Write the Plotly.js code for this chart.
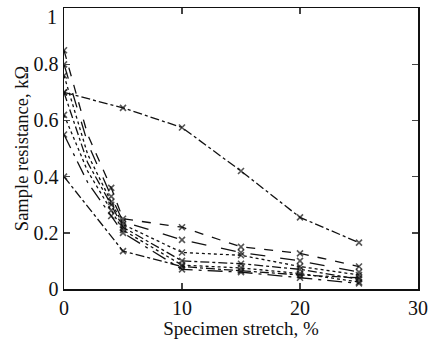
<!DOCTYPE html>
<html>
<head>
<meta charset="utf-8">
<script src="https://cdn.plot.ly/plotly-3.0.1.min.js"></script>
<style>html,body{margin:0;padding:0;background:#fff;}#chart{width:435px;height:350px;}</style>
</head>
<body>
<div id="chart"></div>
<script>
// Data (stretch %, resistance kΩ)
const xA = [0, 5, 10, 15, 20, 25];
const sA = [0.70, 0.645, 0.575, 0.42, 0.255, 0.165];
const xB = [0, 5, 10, 15, 20, 25];
const sB = [0.40, 0.135, 0.08, 0.065, 0.05, 0.04];
const xC = [0, 2, 4, 5, 10, 15, 20, 25];
const s3 = [0.85, 0.55, 0.36, 0.25, 0.22, 0.15, 0.127, 0.08];
const s4 = [0.80, 0.52, 0.33, 0.24, 0.175, 0.13, 0.10, 0.06];
const s5 = [0.76, 0.48, 0.31, 0.23, 0.13, 0.12, 0.08, 0.05];
const s6 = [0.70, 0.45, 0.30, 0.22, 0.10, 0.09, 0.07, 0.035];
const s7 = [0.62, 0.42, 0.28, 0.21, 0.085, 0.075, 0.055, 0.025];
const s8 = [0.55, 0.38, 0.26, 0.20, 0.07, 0.06, 0.04, 0.02];

const xTicks = [0, 10, 20, 30];
const yTicks = [0, 0.2, 0.4, 0.6, 0.8, 1];
const yTickText = ['0', '0.2', '0.4', '0.6', '0.8', '1'];

function tr(x, y, dash) {
  // markers only at the measured stretch steps (not at the intermediate 2% point)
  const sizes = x.map(v => (v === 2 ? 0 : 6));
  return {x: x, y: y, type: 'scatter', mode: 'lines+markers',
    line: {color: '#111', width: 1.3, dash: dash},
    marker: {symbol: 'x-thin', size: sizes, color: '#111', line: {color: '#111', width: 1.6}},
    showlegend: false, hoverinfo: 'skip'};
}
const data = [
  tr(xA, sA, 'dashdot'),
  tr(xB, sB, 'dashdot'),
  tr(xC, s3, 'dash'),
  tr(xC, s4, 'longdash'),
  tr(xC, s5, 'dot'),
  tr(xC, s6, 'dashdot'),
  tr(xC, s7, 'dot'),
  tr(xC, s8, 'longdashdot')
];
const fam = 'Liberation Serif, Times New Roman, serif';
const topIdx = yTicks.length - 1;
const layout = {
  width: 435, height: 350,
  margin: {l: 64, r: 17, t: 8, b: 61},
  paper_bgcolor: '#fff', plot_bgcolor: '#fff',
  font: {family: fam, color: '#111'},
  xaxis: {range: [0, 30], tickvals: xTicks, ticks: 'inside', ticklen: 6, tickwidth: 1.5,
    mirror: 'ticks', showline: true, linecolor: '#111', linewidth: 1.5, showgrid: false, zeroline: false,
    automargin: false,
    tickfont: {family: fam, size: 20, color: '#111'},
    title: {text: 'Specimen stretch, %', font: {family: fam, size: 19, color: '#111'}, standoff: 0}},
  yaxis: {range: [0, 1.0005], tickvals: yTicks, ticktext: yTickText.slice(0, topIdx).concat(['']),
    ticks: 'inside', ticklen: 6, tickwidth: 1.5,
    mirror: 'ticks', showline: true, linecolor: '#111', linewidth: 1.5, showgrid: false, zeroline: false,
    automargin: false,
    tickfont: {family: fam, size: 20, color: '#111'},
    title: {text: 'Sample resistance, kΩ', font: {family: fam, size: 18.5, color: '#111'}, standoff: 0}},
  annotations: [{
    xref: 'paper', yref: 'y', x: 0, y: yTicks[topIdx], text: yTickText[topIdx],
    xanchor: 'right', yanchor: 'middle', xshift: -5, yshift: -9, showarrow: false,
    font: {family: fam, size: 20, color: '#111'}
  }]
};
Plotly.newPlot('chart', data, layout, {staticPlot: true, displayModeBar: false});
</script>
</body>
</html>
